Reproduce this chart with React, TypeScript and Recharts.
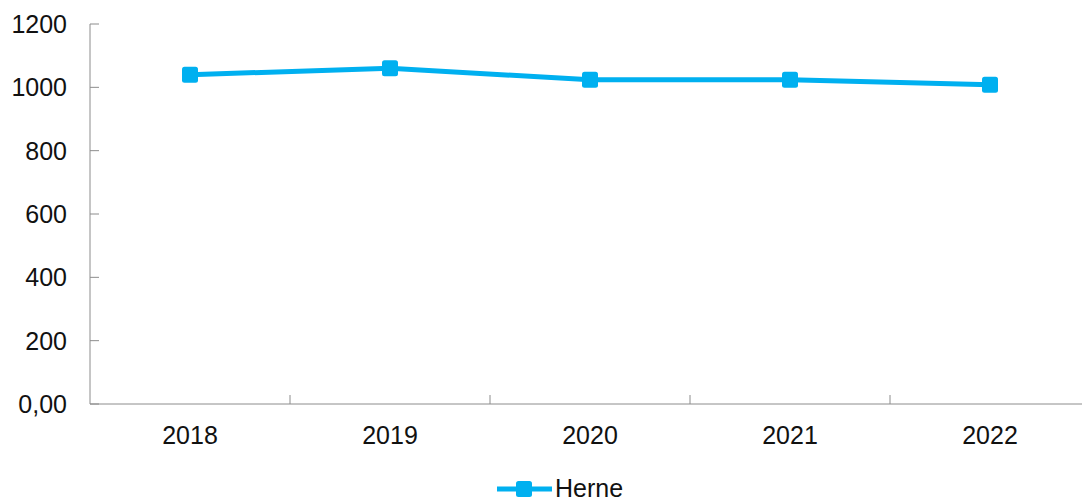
import { LineChart, Line, XAxis, YAxis, Legend } from "recharts";

const years = ["2018", "2019", "2020", "2021", "2022"];
const herne = [1040, 1060, 1024, 1024, 1008];
const yTicks = [0, 200, 400, 600, 800, 1000, 1200];

const data = years.map((year, i) => ({ year, Herne: herne[i] }));

const BLUE = "#00B0F0";
const AXIS = "#8c8c8c";
const TEXT = "#111";
const FONT = 25;
const W = 1082;
const H = 492;
const Y_AXIS_W = 82;
const band = (W - Y_AXIS_W) / years.length;

function SquareDot(props: any) {
  const { cx, cy } = props;
  if (cx == null || cy == null) return null;
  return <rect x={cx - 8} y={cy - 8} width={16} height={16} rx={2.5} fill={BLUE} />;
}

function YearTick(props: any) {
  const { x, y, payload, index } = props;
  return (
    <g>
      {index > 0 && (
        <line x1={x - band / 2} x2={x - band / 2} y1={y} y2={y - 9} stroke={AXIS} strokeWidth={1} />
      )}
      <text x={x} y={y + 40} textAnchor="middle" fontSize={FONT} fill={TEXT}>
        {payload.value}
      </text>
    </g>
  );
}

function HerneLegend() {
  return (
    <svg width={W} height={36} style={{ display: "block", overflow: "visible" }}>
      <line x1={489} x2={544} y1={25} y2={25} stroke={BLUE} strokeWidth={5} />
      <rect x={508} y={17} width={16} height={16} rx={2.5} fill={BLUE} />
      <text x={547} y={33} fontSize={FONT} fill={TEXT}>
        Herne
      </text>
    </svg>
  );
}

export default function App() {
  return (
    <div style={{ width: W, height: H, fontFamily: "'Liberation Sans', Arial, sans-serif" }}>
      <LineChart width={W} height={H} data={data} margin={{ top: 16, right: 0, left: 0, bottom: 0 }}>
        <XAxis
          dataKey="year"
          height={60}
          stroke={AXIS}
          padding={{ left: band / 2, right: band / 2 }}
          tickLine={false}
          tickSize={0}
          tickMargin={0}
          tick={<YearTick />}
        />
        <YAxis
          domain={[0, 1200]}
          ticks={yTicks}
          interval={0}
          width={Y_AXIS_W}
          stroke={AXIS}
          tickSize={-9}
          tickMargin={32}
          tick={{ fontSize: FONT, fill: TEXT }}
          tickFormatter={(v: number) => (v === 0 ? "0,00" : String(v))}
        />
        <Legend verticalAlign="bottom" height={36} wrapperStyle={{ left: 0, bottom: 0 }} content={<HerneLegend />} />
        <Line
          dataKey="Herne"
          stroke={BLUE}
          strokeWidth={5}
          dot={<SquareDot />}
          activeDot={false}
          isAnimationActive={false}
        />
      </LineChart>
    </div>
  );
}
